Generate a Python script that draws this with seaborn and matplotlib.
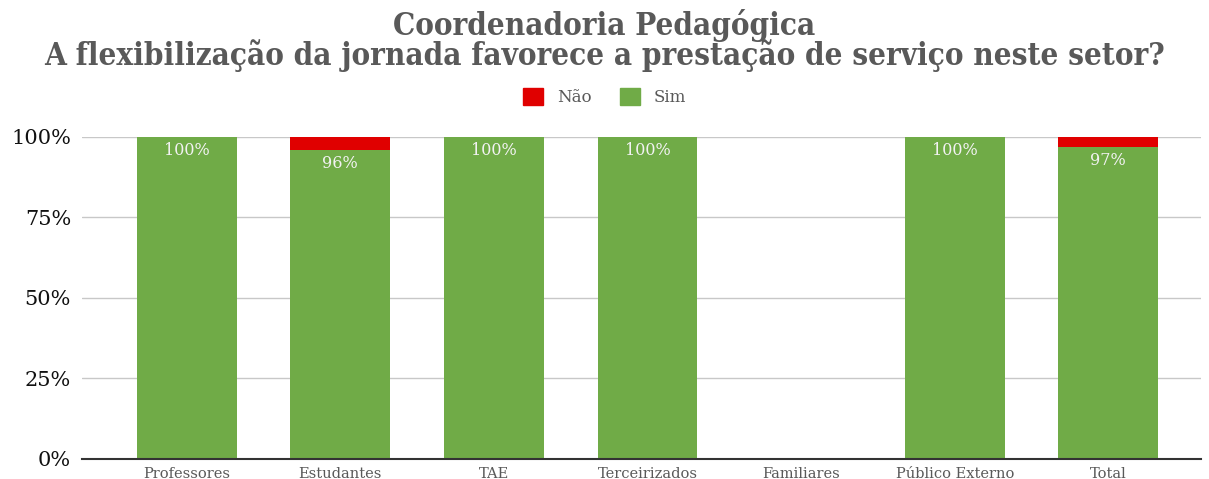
import numpy as np
import pandas as pd
import matplotlib
matplotlib.use("Agg")
import matplotlib.pyplot as plt
import seaborn as sns
from matplotlib.patches import Patch
from matplotlib.ticker import PercentFormatter

# data
categorias = ["Professores", "Estudantes", "TAE", "Terceirizados", "Familiares", "Público Externo", "Total"]
sim = [1.00, 0.96, 1.00, 1.00, 0.0, 1.00, 0.97]
nao = [0.00, 0.04, 0.00, 0.00, 0.0, 0.00, 0.03]
rotulos = ["100%", "96%", "100%", "100%", "", "100%", "97%"]

verde = "#70AB47"
vermelho = "#E00000"
cinza = "#595959"

df = pd.DataFrame({"categoria": categorias, "Sim": sim, "Não": nao})
df["total"] = df["Sim"] + df["Não"]

sns.set_style("white")
plt.rcParams["font.family"] = ["DejaVu Serif", "DejaVu Sans"]

fig = plt.figure(figsize=(12.09, 4.79), dpi=100)
ax = fig.add_axes([0.068, 0.042, 0.925, 0.672])

# stacked: total in red behind, sim in green on top
sns.barplot(data=df, x="categoria", y="total", color=vermelho, width=0.65,
            saturation=1, linewidth=0, ax=ax, zorder=3)
sns.barplot(data=df, x="categoria", y="Sim", color=verde, width=0.65,
            saturation=1, linewidth=0, ax=ax, zorder=4)

for i, (v, r) in enumerate(zip(sim, rotulos)):
    if r:
        ax.annotate(r, (i, v), xytext=(0, -10), textcoords="offset points",
                    ha="center", va="center", color="#f2f2f2", fontsize=11.5, zorder=5)

ax.set_ylim(0, 1.0)
ax.set_xlim(-0.68, 6.6)
ax.set_yticks([0, 0.25, 0.5, 0.75, 1.0])
ax.yaxis.set_major_formatter(PercentFormatter(1.0, decimals=0))
ax.grid(axis="y", color="#c8c8c8", linewidth=1, zorder=0)
ax.set_xlabel("")
ax.set_ylabel("")
ax.tick_params(axis="y", labelsize=15, labelcolor="#111111", length=0, pad=8)
ax.tick_params(axis="x", labelsize=10.5, labelcolor=cinza, length=0, pad=6)
for s in ["top", "right", "left"]:
    ax.spines[s].set_visible(False)
ax.spines["bottom"].set_color("#333333")
ax.spines["bottom"].set_linewidth(1.5)
ax.spines["bottom"].set_zorder(6)

titulo = dict(ha="center", va="center", fontsize=22.5, fontweight="bold",
              color=cinza, fontstretch="condensed")
fig.text(0.5, 1 - 26 / 479, "Coordenadoria Pedagógica", **titulo)
fig.text(0.5, 1 - 56 / 479, "A flexibilização da jornada favorece a prestação de serviço neste setor?", **titulo)

handles = [Patch(color=vermelho, label="Não"), Patch(color=verde, label="Sim")]
fig.legend(handles=handles, loc="center", bbox_to_anchor=(0.5, 1 - 97 / 479), ncol=2,
           frameon=False, fontsize=12, labelcolor=cinza, handlelength=1.2,
           handleheight=1.2, columnspacing=1.7, handletextpad=0.85)

fig.savefig("out.png", dpi=100)
